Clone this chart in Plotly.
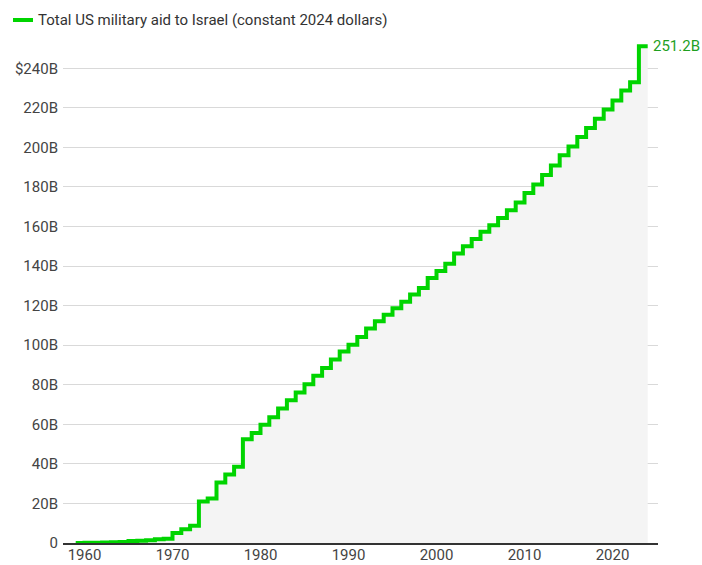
import plotly.graph_objects as go

# Cumulative US military aid to Israel, level held from each year to the next (billions, constant 2024 $)
years = list(range(1959, 2024))
aid_billions = [
    0.05, 0.1, 0.15, 0.3, 0.4, 0.5,            # 1959-1964
    1.0, 1.2, 1.4, 1.9, 2.2,                   # 1965-1969
    5.0, 6.9, 8.7, 21.0, 22.5,                 # 1970-1974
    30.6, 34.6, 38.5, 52.5, 55.6,              # 1975-1979
    59.8, 63.6, 68.0, 72.2, 76.1,              # 1980-1984
    80.3, 84.5, 88.5, 92.8, 96.8,              # 1985-1989
    100.2, 104.2, 108.4, 112.1, 115.4,         # 1990-1994
    118.7, 122.0, 125.6, 128.9, 134.0,         # 1995-1999
    137.5, 141.2, 146.3, 150.0, 153.7,         # 2000-2004
    157.4, 160.6, 164.3, 168.2, 172.1,         # 2005-2009
    176.9, 181.3, 186.0, 190.8, 196.0,         # 2010-2014
    200.5, 205.2, 209.8, 214.5, 219.2,         # 2015-2019
    223.7, 228.8, 233.0, 251.2,                # 2020-2023
]
series_name = "Total US military aid to Israel (constant 2024 dollars)"
end_label = "251.2B"

x_ticks = [1960, 1970, 1980, 1990, 2000, 2010, 2020]
y_ticks = [0, 20, 40, 60, 80, 100, 120, 140, 160, 180, 200, 220, 240]
y_tick_text = ["0", "20B", "40B", "60B", "80B", "100B", "120B", "140B",
               "160B", "180B", "200B", "220B", "$240B"]

# step line holds final level through the end of the last year
x_vals = years + [years[-1] + 1]
y_vals = aid_billions + [aid_billions[-1]]

OFF = 0  # body margin removed in the page script below
W, H = 702 - OFF, 565 - OFF
PL, PR, PT, PB = 63, 658, 30, 543  # plot area in page pixels
ML, MR, MT, MB = PL - OFF, W - (PR - OFF), PT - OFF, H - (PB - OFF)
PW, PH = W - ML - MR, H - MT - MB

def px_x(p):
    return (p - OFF - ML) / PW

def px_y(p):
    return (H - MB - (p - OFF)) / PH

LINE = "#00d400"
FONT = "Roboto, Arial, sans-serif"

fig = go.Figure()
fig.add_trace(go.Scatter(
    x=x_vals, y=y_vals, mode="lines", name=series_name,
    line=dict(color=LINE, width=4, shape="hv"),
    fill="tozeroy", fillcolor="#f4f4f4",
    showlegend=False, hoverinfo="x+y",
))

fig.add_annotation(
    x=x_vals[-1], y=y_vals[-1], xref="x", yref="y",
    text=end_label, showarrow=False, xanchor="left", yanchor="middle",
    xshift=3, font=dict(family=FONT, size=15, color="#1fa01f"),
)

# legend (manual)
fig.add_shape(type="line", xref="paper", yref="paper",
              x0=px_x(13), x1=px_x(33), y0=px_y(20), y1=px_y(20),
              line=dict(color=LINE, width=4))
fig.add_annotation(
    x=px_x(36), y=px_y(20), xref="paper", yref="paper",
    text=series_name, showarrow=False, xanchor="left", yanchor="middle",
    font=dict(family=FONT, size=15, color="#333333"),
)

x0 = 1960 + (PL - 84.5) / 8.8
x1 = 1960 + (PR - 84.5) / 8.8

fig.update_layout(
    width=W, height=H,
    margin=dict(l=ML, r=MR, t=MT, b=MB, pad=0, autoexpand=False),
    paper_bgcolor="white", plot_bgcolor="white",
    font=dict(family=FONT, size=15, color="#444444"),
    showlegend=False,
)
fig.update_xaxes(
    range=[x0, x1], tickvals=x_ticks, showgrid=False, automargin=False,
    zeroline=False, showline=True, linecolor="#333333", linewidth=1.5,
    ticks="", ticklabelstandoff=-3,
    tickfont=dict(size=15, color="#444444"), fixedrange=True,
)
fig.update_yaxes(
    range=[0, PH / 1.978], tickvals=y_ticks, ticktext=y_tick_text,
    showgrid=True, gridcolor="#d9d9d9", gridwidth=1, zeroline=False,
    showline=False, ticks="", ticklabelstandoff=4, automargin=False,
    tickfont=dict(size=15, color="#444444"), fixedrange=True,
)

fig.write_html(
    "out.html",
    config={"displayModeBar": False},
    post_script="document.body.style.margin='0';"
                "document.documentElement.style.overflow='hidden';",
)
